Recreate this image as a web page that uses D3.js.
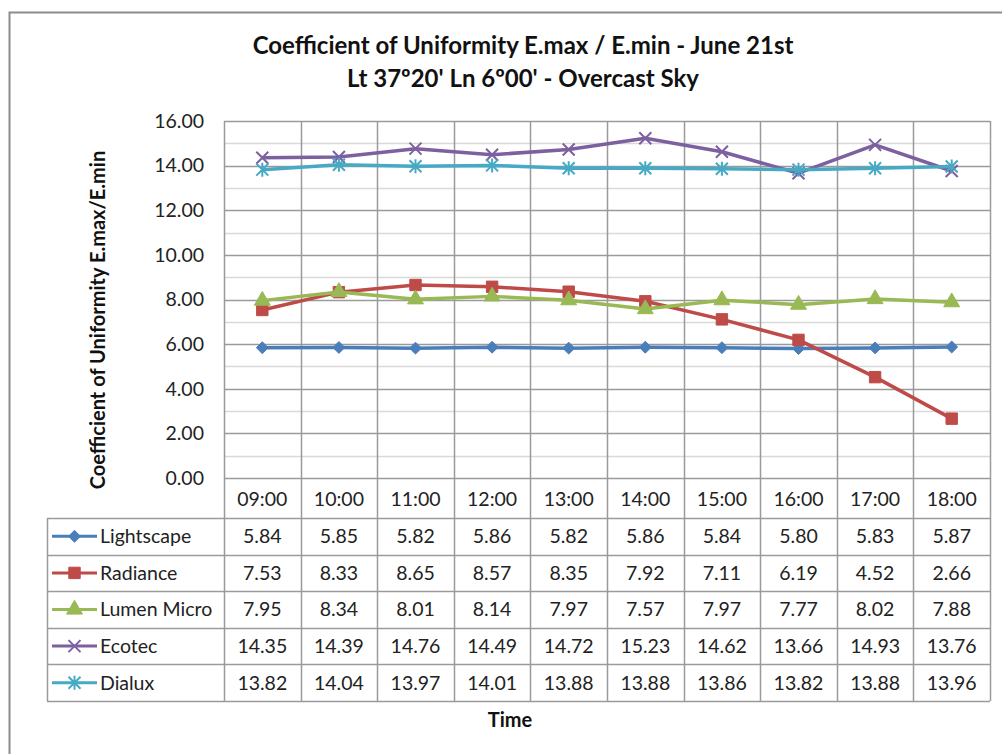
<!DOCTYPE html>
<html>
<head>
<meta charset="utf-8">
<script src="https://cdn.jsdelivr.net/npm/d3@7"></script>
<style>
  body { margin: 0; background: #fff; }
  svg { font-family: Lato, "Open Sans", sans-serif; }
</style>
</head>
<body>
<div id="chart"></div>
<script>
const times = ["09:00", "10:00", "11:00", "12:00", "13:00", "14:00", "15:00", "16:00", "17:00", "18:00"];
const lightscape = [5.84, 5.85, 5.82, 5.86, 5.82, 5.86, 5.84, 5.80, 5.83, 5.87];
const radiance = [7.53, 8.33, 8.65, 8.57, 8.35, 7.92, 7.11, 6.19, 4.52, 2.66];
const lumenMicro = [7.95, 8.34, 8.01, 8.14, 7.97, 7.57, 7.97, 7.77, 8.02, 7.88];
const ecotec = [14.35, 14.39, 14.76, 14.49, 14.72, 15.23, 14.62, 13.66, 14.93, 13.76];
const dialux = [13.82, 14.04, 13.97, 14.01, 13.88, 13.88, 13.86, 13.82, 13.88, 13.96];
const yTicks = [0, 2, 4, 6, 8, 10, 12, 14, 16];

const series = [
    { name: "Lightscape", values: lightscape, color: "#4a7ebb", marker: "diamond" },
    { name: "Radiance", values: radiance, color: "#be4b48", marker: "square" },
    { name: "Lumen Micro", values: lumenMicro, color: "#98b954", marker: "triangle" },
    { name: "Ecotec", values: ecotec, color: "#7d60a0", marker: "x" },
    { name: "Dialux", values: dialux, color: "#46aac5", marker: "star" }
];

const w = 1002, h = 754;
const plotLeft = 224, plotRight = 990, plotTop = 121, plotBottom = 478;
const headerBottom = 518, rowH = 36.6, tableLeft = 47;
const fs = 19.5;

const svg = d3.select("#chart").append("svg")
    .attr("width", w).attr("height", h);

// outer chart border
svg.append("rect")
    .attr("x", 9.5).attr("y", 12.5)
    .attr("width", 1010).attr("height", 780)
    .attr("fill", "none").attr("stroke", "#8c8c8c").attr("stroke-width", 2);

const x = d3.scaleBand().domain(times).range([plotLeft, plotRight]);
const y = d3.scaleLinear().domain([0, 16]).range([plotBottom, plotTop]);

// minor gridlines (odd values)
svg.append("g").selectAll("line")
    .data(d3.range(1, 16, 2))
    .join("line")
    .attr("x1", plotLeft).attr("x2", plotRight)
    .attr("y1", d => Math.round(y(d)) + 0.5).attr("y2", d => Math.round(y(d)) + 0.5)
    .attr("stroke", "#d9d9d9").attr("stroke-width", 1.5);

// major gridlines
svg.append("g").selectAll("line")
    .data(yTicks)
    .join("line")
    .attr("x1", plotLeft).attr("x2", plotRight)
    .attr("y1", d => Math.round(y(d)) + 0.5).attr("y2", d => Math.round(y(d)) + 0.5)
    .attr("stroke", "#9a9a9a").attr("stroke-width", 1.5);

// vertical category lines, running down through the header row
svg.append("g").selectAll("line")
    .data(times.concat(["end"]))
    .join("line")
    .attr("x1", (d, i) => Math.round(plotLeft + i * x.bandwidth()) + 0.5)
    .attr("x2", (d, i) => Math.round(plotLeft + i * x.bandwidth()) + 0.5)
    .attr("y1", plotTop).attr("y2", headerBottom)
    .attr("stroke", "#9a9a9a").attr("stroke-width", 1.5);

// y axis labels
svg.append("g").selectAll("text")
    .data(yTicks)
    .join("text")
    .attr("x", 204).attr("y", d => y(d))
    .attr("dy", "0.35em")
    .attr("text-anchor", "end")
    .attr("font-size", fs).attr("fill", "#222")
    .text(d => d.toFixed(2));

// header row time labels
svg.append("g").selectAll("text")
    .data(times)
    .join("text")
    .attr("x", d => x(d) + x.bandwidth() / 2)
    .attr("y", (plotBottom + headerBottom) / 2 + 1)
    .attr("dy", "0.35em")
    .attr("text-anchor", "middle")
    .attr("font-size", fs).attr("fill", "#222")
    .text(d => d);

// data table grid
const tableBottom = headerBottom + series.length * rowH;
const grid = svg.append("g").attr("stroke", "#9a9a9a").attr("stroke-width", 1.5);
d3.range(series.length + 1).forEach(i => {
    const yy = Math.round(headerBottom + i * rowH) + 0.5;
    grid.append("line").attr("x1", tableLeft).attr("x2", plotRight).attr("y1", yy).attr("y2", yy);
});
[tableLeft].concat(d3.range(times.length + 1).map(i => plotLeft + i * x.bandwidth())).forEach(xx => {
    const xr = Math.round(xx) + 0.5;
    grid.append("line").attr("x1", xr).attr("x2", xr).attr("y1", headerBottom).attr("y2", tableBottom);
});

const markerPath = (type) => {
    if (type === "diamond") return d3.symbol(d3.symbolDiamond2, 90)();
    if (type === "square") return d3.symbol(d3.symbolSquare, 130)();
    if (type === "triangle") return d3.symbol(d3.symbolTriangle, 110)();
    if (type === "x") return "M-6,-6L6,6M-6,6L6,-6";
    return "M-6,-6L6,6M-6,6L6,-6M0,-7L0,7";
};

const drawMarker = (g, s, cx, cy) => {
    const p = g.append("path")
        .attr("d", markerPath(s.marker))
        .attr("transform", `translate(${cx},${cy})`);
    if (s.marker === "x" || s.marker === "star") {
        p.attr("fill", "none").attr("stroke", s.color).attr("stroke-width", 2);
    } else {
        p.attr("fill", s.color).attr("stroke", s.color).attr("stroke-width", 1);
    }
};

// table rows: legend keys, names and values
series.forEach((s, i) => {
    const cy = headerBottom + (i + 0.5) * rowH;
    const row = svg.append("g");
    row.append("line")
        .attr("x1", 52).attr("x2", 97).attr("y1", cy).attr("y2", cy)
        .attr("stroke", s.color).attr("stroke-width", 3);
    drawMarker(row, s, 74.5, cy);
    row.append("text")
        .attr("x", 100).attr("y", cy).attr("dy", "0.35em")
        .attr("font-size", fs).attr("fill", "#222")
        .text(s.name);
    row.selectAll("text.val")
        .data(s.values)
        .join("text")
        .attr("class", "val")
        .attr("x", (d, j) => x(times[j]) + x.bandwidth() / 2)
        .attr("y", cy).attr("dy", "0.35em")
        .attr("text-anchor", "middle")
        .attr("font-size", fs).attr("fill", "#222")
        .text(d => d.toFixed(2));
});

// series lines and markers
const line = d3.line()
    .x((d, i) => x(times[i]) + x.bandwidth() / 2)
    .y(d => y(d));

series.forEach(s => {
    const g = svg.append("g");
    g.append("path")
        .datum(s.values)
        .attr("d", line)
        .attr("fill", "none")
        .attr("stroke", s.color)
        .attr("stroke-width", 3.5)
        .attr("stroke-linejoin", "round");
    s.values.forEach((v, i) => drawMarker(g, s, x(times[i]) + x.bandwidth() / 2, y(v)));
});

// titles
svg.append("text")
    .attr("x", 523).attr("y", 54)
    .attr("text-anchor", "middle")
    .attr("font-size", 24).attr("font-weight", "bold").attr("fill", "#111")
    .text("Coefficient of Uniformity E.max / E.min - June 21st");
svg.append("text")
    .attr("x", 523).attr("y", 87)
    .attr("text-anchor", "middle")
    .attr("font-size", 24).attr("font-weight", "bold").attr("fill", "#111")
    .text("Lt 37º20' Ln 6º00' - Overcast Sky");

svg.append("text")
    .attr("transform", `translate(105,320) rotate(-90)`)
    .attr("text-anchor", "middle")
    .attr("font-size", 20).attr("font-weight", "bold").attr("fill", "#111")
    .text("Coefficient of Uniformity E.max/E.min");

svg.append("text")
    .attr("x", 510).attr("y", 727)
    .attr("text-anchor", "middle")
    .attr("font-size", 20).attr("font-weight", "bold").attr("fill", "#111")
    .text("Time");
</script>
</body>
</html>
